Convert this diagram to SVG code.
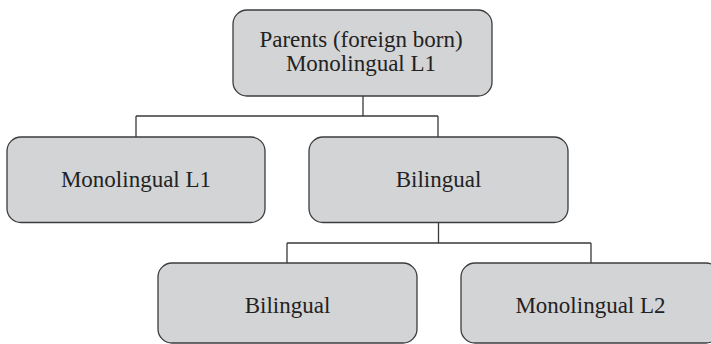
<svg xmlns="http://www.w3.org/2000/svg" width="711" height="344" viewBox="0 0 711 344">
<style>
.box{fill:#d3d4d6;stroke:#3c3c3c;stroke-width:1.3}
.lbl{font-family:"Liberation Serif","Times New Roman",serif;font-size:23px;fill:#222;text-anchor:middle}
.conn{fill:none;stroke:#3a3a3a;stroke-width:1.3}
</style>
<rect width="711" height="344" fill="#fff"/>
<g id="connectors">
<path class="conn" d="M363 96V116M136 116H438M136 116V137M438 116V137"/>
<path class="conn" d="M438.5 222.5V243M287 243H591M287 243V263M591 243V263"/>
</g>
<g id="parents">
<rect class="box" x="233" y="10" width="259" height="86" rx="14"/>
<text class="lbl" x="361" y="47">Parents (foreign born)</text>
<text class="lbl" x="361" y="71">Monolingual L1</text>
</g>
<g id="mono-l1">
<rect class="box" x="7" y="137" width="258" height="85.5" rx="14"/>
<text class="lbl" x="136" y="187">Monolingual L1</text>
</g>
<g id="bilingual">
<rect class="box" x="309" y="137" width="259" height="85.5" rx="14"/>
<text class="lbl" x="438.5" y="187">Bilingual</text>
</g>
<g id="bilingual-child">
<rect class="box" x="158" y="263" width="259" height="80" rx="14"/>
<text class="lbl" x="287.5" y="313">Bilingual</text>
</g>
<g id="mono-l2">
<rect class="box" x="461" y="263" width="259" height="80" rx="14"/>
<text class="lbl" x="590.5" y="313">Monolingual L2</text>
</g>
</svg>
